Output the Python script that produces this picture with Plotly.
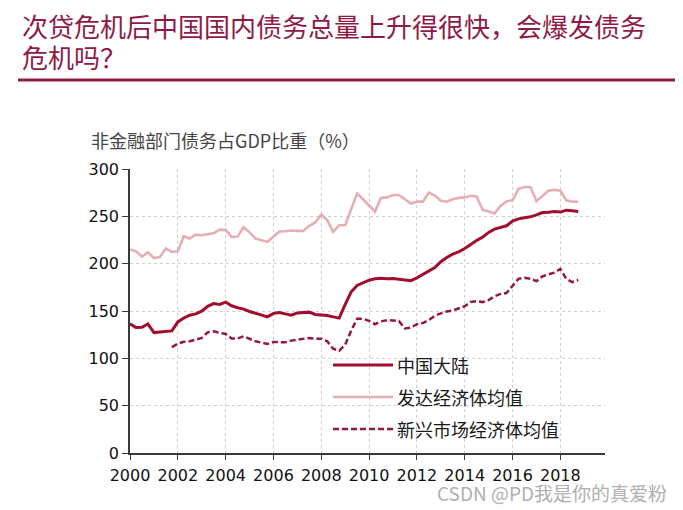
import pandas as pd
import plotly.graph_objects as go

# Quarterly observations, 2000Q1 .. 2018Q4
quarters = pd.date_range(start="2000-01-01", periods=76, freq="QS").strftime("%Y-%m-%d").tolist()

china = [
    136.4, 132.5, 132.9, 136.4,
    127.2, 127.9, 127.9, 129.0,
    138.5, 142.5, 145.5, 147.0,
    149.8, 155.0, 157.9, 157.0,
    159.4, 155.5, 153.5, 152.0,
    149.5, 147.5, 145.6, 143.8,
    147.5, 148.4, 147.0, 145.6,
    148.0, 148.5, 148.8, 146.3,
    146.0, 145.2, 143.8, 142.5,
    157.0, 170.0, 177.0, 180.0,
    182.5, 184.0, 184.5, 184.0,
    184.2, 183.5, 182.7, 182.0,
    185.0, 188.5, 192.0, 195.8,
    202.0, 206.5, 210.0, 212.5,
    216.0, 220.5, 224.5, 228.0,
    233.0, 236.5, 238.5, 240.0,
    245.0, 247.3, 248.5, 249.5,
    251.5, 254.0, 254.2, 255.0,
    254.5, 256.5, 256.0, 255.2,
]

developed = [
    215.0, 213.0, 207.5, 212.0,
    206.0, 207.0, 216.0, 212.5,
    213.0, 229.0, 226.5, 230.7,
    230.0, 230.7, 232.0, 236.0,
    235.7, 228.3, 228.6, 238.5,
    233.0, 226.5, 224.5, 223.0,
    228.6, 234.0, 234.3, 235.0,
    234.6, 234.6, 240.0, 243.5,
    252.0, 246.0, 233.6, 240.6,
    240.6, 258.0, 274.0, 268.0,
    261.0, 255.0, 269.5, 270.0,
    272.5, 272.5, 268.0, 263.5,
    265.5, 265.5, 275.0, 272.0,
    266.5, 265.5, 268.0, 269.5,
    270.0, 271.7, 271.0, 257.0,
    255.0, 253.0, 261.0, 265.7,
    267.0, 279.0, 281.0, 281.0,
    266.0, 271.0, 277.0, 278.0,
    277.0, 267.0, 265.5, 265.4,
]

emerging = [
    None, None, None, None,
    None, None, None, 111.7,
    115.5, 117.5, 118.0, 119.8,
    121.5, 127.5, 128.6, 127.0,
    125.8, 121.0, 121.0, 123.3,
    121.0, 118.0, 116.6, 115.2,
    117.3, 117.0, 117.0, 118.7,
    119.8, 120.5, 121.6, 120.8,
    120.8, 118.0, 110.2, 108.0,
    114.5, 129.0, 141.7, 141.7,
    139.5, 136.0, 139.0, 140.3,
    140.0, 139.5, 131.5, 132.5,
    136.0, 137.3, 140.5, 145.0,
    147.5, 149.5, 150.5, 152.5,
    155.0, 159.5, 160.4, 159.4,
    161.5, 165.5, 168.0, 169.0,
    177.0, 184.0, 185.2, 184.0,
    181.6, 186.5, 188.7, 190.5,
    194.5, 184.0, 180.6, 182.7,
]

series_names = ["中国大陆", "发达经济体均值", "新兴市场经济体均值"]
title_lines = ["次贷危机后中国国内债务总量上升得很快，会爆发债务", "危机吗？"]
yaxis_label = "非金融部门债务占GDP比重（%）"
watermark = "CSDN @PD我是你的真爱粉"

RED = "#A30D2D"
PINK = "#E5AEB4"
DASH = "#951743"
MAROON = "#8E1B47"

# The page body has an 8px default margin; size the figure so it fits the window.
OFF = 8
W, H = 683 - OFF, 510 - OFF
PLOT_L, PLOT_R, PLOT_T, PLOT_B = 130, 605, 169, 453   # absolute page pixels
L, T = PLOT_L - OFF, PLOT_T - OFF
R = W - (PLOT_R - OFF)
B = H - (PLOT_B - OFF)
PW, PH = W - L - R, H - T - B


def px(x):
    return (x - OFF - L) / PW


def py(y):
    return (H - B - (y - OFF)) / PH


fig = go.Figure()
fig.add_trace(go.Scatter(x=quarters, y=developed, name=series_names[1], mode="lines",
                         line=dict(color=PINK, width=2.6)))
fig.add_trace(go.Scatter(x=quarters, y=emerging, name=series_names[2], mode="lines",
                         line=dict(color=DASH, width=2.5, dash="6px,3px")))
fig.add_trace(go.Scatter(x=quarters, y=china, name=series_names[0], mode="lines",
                         line=dict(color=RED, width=3)))

tick_font = dict(family="DejaVu Sans", size=16, color="#111111")
cjk = "Noto Sans CJK SC"

fig.update_layout(
    width=W, height=H,
    margin=dict(l=L, r=R, t=T, b=B),
    paper_bgcolor="white", plot_bgcolor="white",
    showlegend=False,
    xaxis=dict(
        type="date",
        range=["2000-01-01", "2019-11-14"],
        tick0="2000-01-01", dtick="M24", tickformat="%Y",
        showgrid=True, gridcolor="#CFCFCF", griddash="dot", gridwidth=1,
        showline=True, linecolor="#3A3A3A", linewidth=1.5,
        ticks="outside", ticklen=5, tickcolor="#3A3A3A",
        ticklabelstandoff=2,
        tickfont=tick_font, zeroline=False,
    ),
    yaxis=dict(
        range=[0, 300], dtick=50, tick0=0,
        showgrid=True, gridcolor="#CFCFCF", griddash="dot", gridwidth=1,
        showline=True, linecolor="#3A3A3A", linewidth=1.5,
        ticks="outside", ticklen=6, tickcolor="#3A3A3A",
        tickfont=tick_font, zeroline=False,
    ),
)

annotations = [
    dict(text=title_lines[0], x=px(21), y=py(25), xref="paper", yref="paper",
         xanchor="left", yanchor="middle", align="left", showarrow=False, borderpad=0,
         font=dict(family=cjk, size=26, color=MAROON)),
    dict(text=title_lines[1], x=px(21), y=py(56), xref="paper", yref="paper",
         xanchor="left", yanchor="middle", align="left", showarrow=False, borderpad=0,
         font=dict(family=cjk, size=26, color=MAROON)),
    dict(text=yaxis_label, x=px(89), y=py(140), xref="paper", yref="paper",
         xanchor="left", yanchor="middle", showarrow=False,
         font=dict(family=cjk, size=18, color="#444444")),
    dict(text=watermark, x=px(669), y=py(492), xref="paper", yref="paper",
         xanchor="right", yanchor="middle", showarrow=False,
         font=dict(family=cjk, size=19, color="#B0B0B0")),
]

shapes = [
    dict(type="line", xref="paper", yref="paper", x0=px(18), x1=px(690), y0=py(80), y1=py(80),
         line=dict(color=MAROON, width=3)),
]

legend_items = [(series_names[0], RED, "solid", 3, 365),
                (series_names[1], PINK, "solid", 2.6, 397),
                (series_names[2], DASH, "6px,3px", 2.5, 429)]
for name, color, dash, width, yy in legend_items:
    shapes.append(dict(type="line", xref="paper", yref="paper", x0=px(333), x1=px(393),
                       y0=py(yy), y1=py(yy), line=dict(color=color, width=width, dash=dash)))
    annotations.append(dict(text=name, x=px(395), y=py(yy), xref="paper", yref="paper",
                            xanchor="left", yanchor="middle", showarrow=False,
                            font=dict(family=cjk, size=18, color="#1A1A1A")))

fig.update_layout(annotations=annotations, shapes=shapes)
fig.write_html("out.html")
